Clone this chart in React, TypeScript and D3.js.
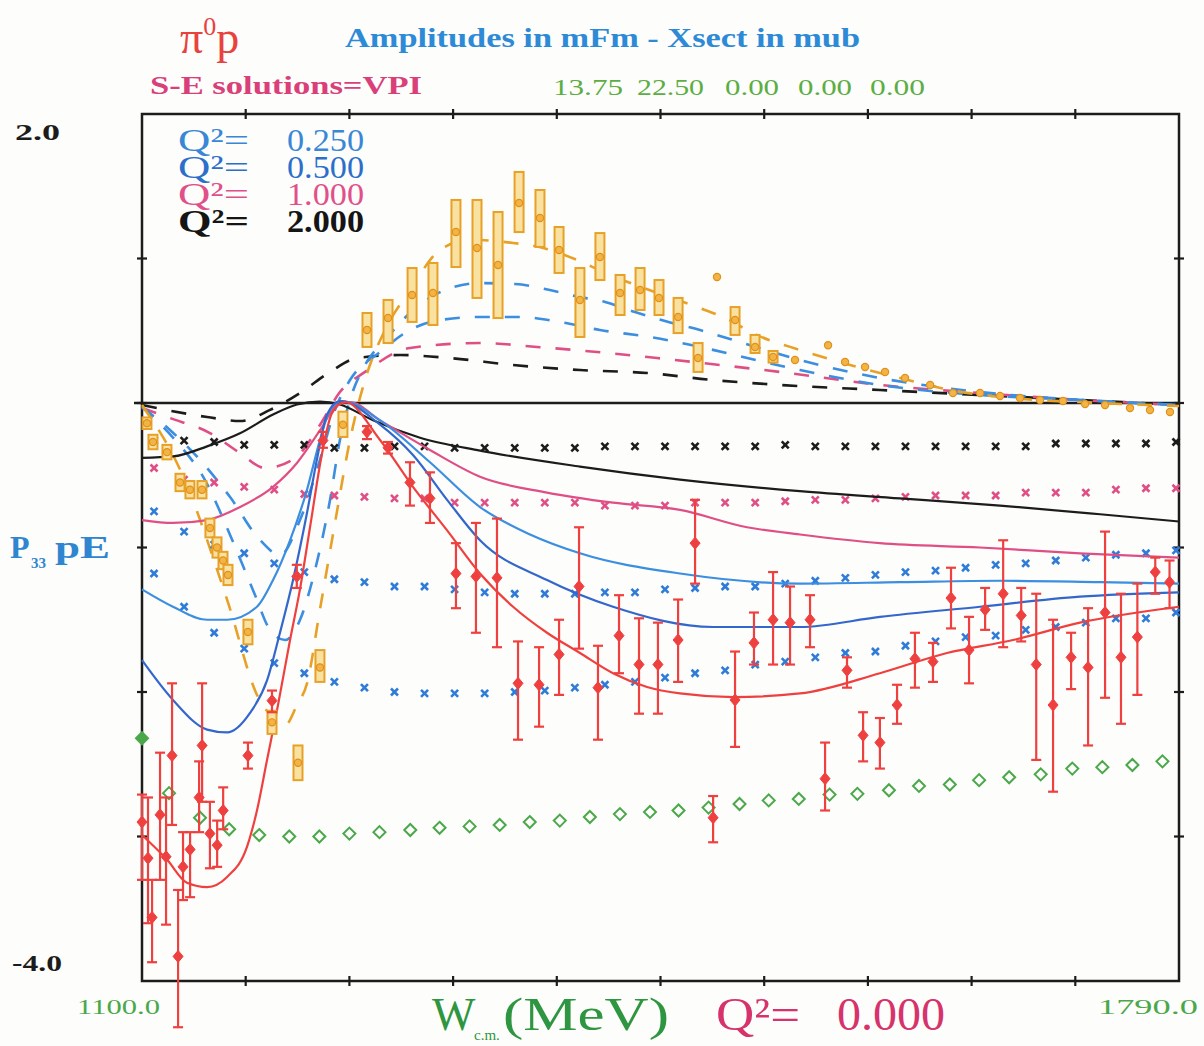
import * as d3 from "d3";

// ---- data (W in MeV, amplitude in mFm) ----
type Pt = [number, number];

// Q2 = 0 (red), real part fit
const redSolid: Pt[] = [[1100,-2.99],[1116.6,-3.16],[1129.9,-3.32],[1143.3,-3.35],[1156.6,-3.28],[1169.9,-3.07],[1176.5,-2.82],[1183.2,-2.47],[1190.5,-2.09],[1198.5,-1.64],[1205.1,-1.29],[1211.8,-0.86],[1219.8,-0.35],[1226.4,-0.07],[1235.1,0.007],[1258.4,-0.256],[1280.3,-0.58],[1302.9,-0.88],[1324.9,-1.18],[1346.9,-1.41],[1369.5,-1.59],[1391.4,-1.73],[1413.4,-1.87],[1436,-1.965],[1458,-2.01],[1493.3,-2.035],[1537.8,-2.01],[1591,-1.87],[1635.6,-1.73],[1679.6,-1.64],[1724.1,-1.52],[1790,-1.41]];
// Q2 = 0 imaginary part (orange dashed)
const orangeDashed: Pt[] = [[1100,-0.014],[1125.3,-0.46],[1157.2,-1.38],[1177.2,-2.035],[1186.5,-2.17],[1195.2,-2.23],[1203.1,-2.09],[1209.8,-1.94],[1218.4,-1.43],[1228.4,-0.83],[1238.4,-0.256],[1248.4,0.16],[1261.7,0.505],[1278.3,0.78],[1298.3,1.06],[1318.2,1.13],[1344.9,1.11],[1368.2,1.07],[1389.4,0.99],[1411.4,0.886],[1438,0.78],[1469.3,0.664],[1486.6,0.595],[1509.2,0.47],[1537.8,0.367],[1571.1,0.263],[1604.4,0.173],[1637.6,0.09],[1670.9,0.042],[1737.5,0],[1790,-0.021]];

// Q2 = 0.25
const blue25Solid: Pt[] = [[1100,-1.78],[1120.6,-2.055],[1143.3,-2.26],[1156.6,-2.28],[1171.9,-2.145],[1183.2,-1.92],[1191.8,-1.59],[1200.5,-1.225],[1209.8,-0.76],[1216.4,-0.39],[1223.1,-0.08],[1231.7,0.014],[1258.4,-0.15],[1280.3,-0.36],[1303,-0.67],[1324.9,-0.95],[1369.5,-1.225],[1413.4,-1.41],[1480,-1.55],[1537.8,-1.55],[1591,-1.48],[1657.6,-1.41],[1724.1,-1.34],[1790,-1.31]];
const blue25Dashed: Pt[] = [[1100,-0.028],[1122,-0.256],[1141.9,-0.533],[1158.6,-0.913],[1175.2,-1.329],[1185.2,-1.571],[1195.2,-1.64],[1205.1,-1.502],[1215.1,-1.156],[1225.1,-0.671],[1231.7,-0.256],[1238.4,0.021],[1248.4,0.263],[1261.7,0.436],[1278.3,0.623],[1301.6,0.782],[1324.9,0.83],[1348.2,0.824],[1368.2,0.789],[1388.1,0.74],[1408.1,0.699],[1428,0.63],[1448,0.567],[1471.3,0.505],[1499.9,0.415],[1537.8,0.298],[1591,0.173],[1657.6,0.076],[1724.1,0.021],[1790,-0.014]];

// Q2 = 0.5
const blue50Solid: Pt[] = [[1100,-1.29],[1120.6,-1.41],[1143.3,-1.5],[1156.6,-1.5],[1176.5,-1.41],[1187.2,-1.225],[1198.5,-0.95],[1209.8,-0.6],[1218.4,-0.256],[1225.1,-0.05],[1233.1,0.014],[1258.4,-0.12],[1291.6,-0.41],[1324.9,-0.72],[1358.2,-0.91],[1391.4,-1.04],[1458,-1.18],[1537.8,-1.25],[1604.4,-1.24],[1670.9,-1.23],[1737.5,-1.24],[1790,-1.25]];
const blue50Dashed: Pt[] = [[1100,-0.028],[1118.6,-0.187],[1138.6,-0.394],[1158.6,-0.651],[1178.5,-0.948],[1191.8,-1.052],[1205.1,-0.81],[1218.4,-0.394],[1228.4,-0.048],[1238.4,0.159],[1258.4,0.353],[1278.3,0.505],[1298.3,0.574],[1324.9,0.595],[1351.5,0.595],[1378.1,0.561],[1404.7,0.505],[1438,0.457],[1471.3,0.388],[1499.9,0.318],[1537.8,0.228],[1591,0.125],[1657.6,0.055],[1724.1,0.021],[1790,-0.014]];

// Q2 = 1.0
const pinkSolid: Pt[] = [[1100,-0.81],[1120.6,-0.83],[1143.3,-0.81],[1165.2,-0.72],[1187.2,-0.58],[1203.1,-0.415],[1218.4,-0.19],[1229.8,-0.014],[1238.4,0.007],[1258.4,-0.12],[1291.6,-0.325],[1324.9,-0.51],[1369.5,-0.62],[1413.4,-0.69],[1458,-0.74],[1502.6,-0.86],[1537.8,-0.91],[1591,-0.97],[1657.6,-1.0],[1724.1,-1.04],[1790,-1.07]];
const pinkDashed: Pt[] = [[1100,-0.035],[1118.6,-0.104],[1145.2,-0.208],[1165.2,-0.346],[1181.8,-0.45],[1201.8,-0.381],[1218.4,-0.152],[1231.7,0.076],[1248.4,0.215],[1278.3,0.381],[1324.9,0.415],[1362.8,0.388],[1402.8,0.353],[1442.7,0.311],[1484.6,0.263],[1524.5,0.215],[1591,0.125],[1657.6,0.069],[1724.1,0.021],[1790,-0.014]];

// Q2 = 2.0
const blackSolid: Pt[] = [[1100,-0.38],[1120.6,-0.37],[1143.3,-0.3],[1165.2,-0.21],[1187.2,-0.08],[1203.1,-0.01],[1218.4,0.01],[1231.7,-0.01],[1253.7,-0.12],[1285,-0.24],[1324.9,-0.33],[1391.4,-0.44],[1458,-0.53],[1537.8,-0.61],[1604.4,-0.66],[1670.9,-0.71],[1737.5,-0.77],[1790,-0.82]];
const blackDashed: Pt[] = [[1100,-0.014],[1143.3,-0.097],[1165.2,-0.125],[1185.2,-0.048],[1205.1,0.069],[1225.1,0.215],[1243.1,0.311],[1271.7,0.332],[1304.9,0.311],[1346.9,0.263],[1391.4,0.228],[1436,0.208],[1479.9,0.159],[1524.5,0.125],[1591,0.09],[1657.6,0.055],[1724.1,0.021],[1790,-0.014]];

// cross markers (same energy grid)
const crossW = [1108,1128,1148,1168,1188,1208,1228,1248,1268,1288,1308,1328,1348,1368,1388,1408,1428,1448,1468,1488,1508,1528,1548,1568,1588,1608,1628,1648,1668,1688,1708,1728,1748,1768,1788];
const crossBlack = [-0.26,-0.26,-0.27,-0.29,-0.29,-0.29,-0.31,-0.31,-0.3,-0.3,-0.31,-0.31,-0.31,-0.31,-0.31,-0.3,-0.3,-0.3,-0.3,-0.3,-0.3,-0.29,-0.3,-0.3,-0.3,-0.3,-0.3,-0.3,-0.3,-0.3,-0.28,-0.28,-0.28,-0.28,-0.27];
const crossPink = [-0.45,-0.53,-0.55,-0.58,-0.6,-0.63,-0.64,-0.65,-0.66,-0.66,-0.69,-0.69,-0.69,-0.69,-0.69,-0.71,-0.71,-0.71,-0.69,-0.69,-0.69,-0.68,-0.67,-0.67,-0.66,-0.65,-0.64,-0.64,-0.64,-0.62,-0.62,-0.62,-0.6,-0.59,-0.59];
const crossBlue50 = [-0.75,-0.89,-0.98,-1.04,-1.11,-1.17,-1.22,-1.24,-1.27,-1.27,-1.29,-1.31,-1.32,-1.32,-1.32,-1.31,-1.31,-1.29,-1.28,-1.27,-1.27,-1.25,-1.23,-1.21,-1.19,-1.17,-1.16,-1.14,-1.12,-1.11,-1.09,-1.07,-1.05,-1.04,-1.02];
const crossBlue25 = [-1.18,-1.41,-1.59,-1.7,-1.8,-1.87,-1.93,-1.97,-2.0,-2.01,-2.01,-2.01,-2.0,-1.99,-1.97,-1.95,-1.93,-1.9,-1.87,-1.85,-1.81,-1.79,-1.76,-1.73,-1.72,-1.68,-1.65,-1.62,-1.61,-1.57,-1.55,-1.52,-1.49,-1.49,-1.45];

// green diamonds
const diamondW = [1100,1118,1138.6,1158,1178,1198,1218,1238,1258,1278.5,1298,1318,1338,1358,1378,1398,1418,1438,1457,1477,1497.6,1517,1537,1557.5,1576,1597,1617,1637.5,1657,1677,1698,1719,1739,1759,1779];
const diamondV = [-2.32,-2.7,-2.87,-2.95,-2.99,-3.0,-3.0,-2.98,-2.97,-2.955,-2.94,-2.93,-2.92,-2.9,-2.89,-2.865,-2.845,-2.83,-2.82,-2.8,-2.775,-2.75,-2.74,-2.71,-2.705,-2.68,-2.65,-2.64,-2.61,-2.59,-2.57,-2.53,-2.52,-2.505,-2.48];

// red data: W, value, upper, lower
const redW = [1100,1104,1106.7,1112,1116,1120,1124,1127.3,1132,1138,1140,1145.2,1150,1154,1170.5,1186.5,1203,1220.4,1249.7,1263.7,1278.3,1291.6,1308.9,1322.2,1336.2,1350.2,1364.2,1377.5,1390.8,1403.4,1417.4,1430.7,1443.3,1456.7,1468,1480,1494.6,1507.2,1519.9,1531.2,1544.5,1554.5,1569.1,1579.8,1591,1602.4,1614.3,1626.3,1638.3,1650.3,1661,1673,1685,1695,1706.2,1718.2,1729.5,1740.8,1751.4,1762.3,1774.2,1783.7];
const redV = [-2.9,-3.15,-3.56,-2.85,-3.14,-2.44,-3.83,-3.21,-3.09,-2.73,-2.37,-2.98,-3.06,-2.82,-2.44,-2.06,-1.2,-0.26,-0.2,-0.31,-0.55,-0.66,-1.18,-1.2,-1.21,-1.94,-1.95,-1.74,-1.27,-1.97,-1.61,-1.81,-1.81,-1.64,-0.97,-2.87,-2.055,-1.66,-1.5,-1.52,-1.5,-2.6,-1.85,-2.3,-2.35,-2.09,-1.77,-1.79,-1.35,-1.71,-1.43,-1.32,-1.47,-1.81,-2.09,-1.76,-1.83,-1.45,-1.76,-1.62,-1.17,-1.24];
const redHi = [-2.71,-2.73,-3.3,-2.42,-2.73,-1.94,-3.37,-2.97,-2.97,-2.48,-1.94,-2.76,-2.89,-2.66,-2.35,-1.99,-1.12,-0.2,-0.16,-0.27,-0.41,-0.48,-0.97,-0.83,-0.8,-1.65,-1.69,-1.5,-0.86,-1.68,-1.33,-1.49,-1.52,-1.36,-0.67,-2.72,-1.72,-1.45,-1.17,-1.27,-1.33,-2.35,-1.76,-2.14,-2.18,-1.95,-1.59,-1.66,-1.14,-1.48,-1.28,-0.95,-1.28,-1.32,-1.5,-1.59,-1.42,-0.89,-1.32,-1.25,-1.07,-1.09];
const redLo = [-3.3,-3.6,-3.87,-3.3,-3.61,-2.92,-4.32,-3.44,-3.42,-2.97,-2.76,-3.22,-3.21,-2.95,-2.53,-2.14,-1.28,-0.31,-0.25,-0.35,-0.71,-0.83,-1.42,-1.59,-1.69,-2.33,-2.24,-2.02,-1.7,-2.33,-1.87,-2.15,-2.15,-1.93,-1.25,-3.04,-2.38,-1.81,-1.81,-1.81,-1.69,-2.82,-1.97,-2.48,-2.53,-2.22,-1.97,-1.93,-1.56,-1.94,-1.57,-1.69,-1.65,-2.47,-2.69,-1.98,-2.37,-2.04,-2.22,-2.02,-1.32,-1.42];

// orange data (imaginary part): W, value, upper, lower
const orangeW = [1103.3,1107.3,1116.6,1125.3,1131.9,1139.9,1145.2,1149.9,1153.9,1157.2,1170.5,1186.5,1203.8,1218.4,1233.7,1249.7,1263.7,1279.7,1293.6,1308.9,1322.9,1336.9,1350.9,1364.8,1377.5,1391.4,1404.7,1418.1,1431.4,1444,1456.7,1470,1482.6,1494.6,1507.9,1519.9,1534.5,1556.5,1567.8,1581.1,1594.4,1607.7,1624.4,1639.6,1657.6,1670.9,1684.2,1697.5,1712.8,1727.5,1740.8,1757.4,1770.7,1784];
const orangeV = [-0.14,-0.27,-0.34,-0.55,-0.6,-0.6,-0.865,-1.0,-1.09,-1.19,-1.585,-2.21,-2.49,-1.83,-0.15,0.505,0.588,0.747,0.761,1.183,1.073,0.955,1.384,1.28,1.059,0.713,1.01,0.761,0.782,0.727,0.595,0.311,0.872,0.574,0.388,0.318,0.298,0.4,0.284,0.249,0.215,0.173,0.125,0.069,0.069,0.048,0.035,0.021,0.014,-0.007,-0.014,-0.035,-0.048,-0.062];
const orangeHi = [-0.1,-0.22,-0.29,-0.49,-0.54,-0.54,-0.8,-0.93,-1.03,-1.12,-1.5,-2.13,-2.37,-1.71,-0.06,0.623,0.713,0.934,0.969,1.405,1.405,1.322,1.599,1.474,1.218,0.934,1.176,0.886,0.934,0.851,0.727,0.415,0.872,0.664,0.471,0.36,0.298,0.4,0.284,0.249,0.215,0.173,0.125,0.069,0.069,0.048,0.035,0.021,0.014,-0.007,-0.014,-0.035,-0.048,-0.062];
const orangeLo = [-0.18,-0.32,-0.39,-0.61,-0.66,-0.66,-0.93,-1.07,-1.15,-1.26,-1.67,-2.29,-2.61,-1.93,-0.235,0.388,0.415,0.561,0.54,0.941,0.727,0.588,1.183,1.08,0.9,0.457,0.851,0.609,0.644,0.609,0.484,0.215,0.872,0.471,0.346,0.28,0.298,0.4,0.284,0.249,0.215,0.173,0.125,0.069,0.069,0.048,0.035,0.021,0.014,-0.007,-0.014,-0.035,-0.048,-0.062];

// legend rows
const legendLabels = ["0.250", "0.500", "1.000", "2.000"];
const legendColors = ["#3a87d6", "#2c6fcb", "#e0508a", "#151515"];
// top-right parameter values
const paramLabels = ["13.75", "22.50", "0.00", "0.00", "0.00"];
const paramX = [553, 637, 725, 798, 870];
const paramLen = [70, 67, 54, 54, 55];

// ---- layout ----
const width = 1204;
const height = 1046;
const left = 142;
const right = 1179;
const top = 114;
const bottom = 981;

const RED = "#ef4040";
const PINK = "#df4f86";
const BLUE_L = "#3b8ee0";
const BLUE_D = "#3467cc";
const ORANGE = "#e7a126";
const GREEN = "#4aa84a";
const INK = "#1c1c1c";
const SERIF = "'Liberation Serif', 'DejaVu Serif', serif";

const x = d3.scaleLinear().domain([1100, 1790]).range([left, right]);
const y = d3.scaleLinear().domain([-4, 2]).range([bottom, top]);

const line = d3
  .line<Pt>()
  .x((d) => x(d[0]))
  .y((d) => y(d[1]))
  .curve(d3.curveMonotoneX);

const xTicks = d3.range(1, 10).map((i) => 1100 + i * 69);
const yTicks = [-3, -2, -1, 0, 1];

const Cross = ({ cx, cy, color }: { cx: number; cy: number; color: string }) => (
  <g stroke={color} strokeWidth={2.6}>
    <line x1={cx - 3.5} y1={cy - 3.5} x2={cx + 3.5} y2={cy + 3.5} />
    <line x1={cx - 3.5} y1={cy + 3.5} x2={cx + 3.5} y2={cy - 3.5} />
  </g>
);

const App = () => {
  const crossSets = [
    { v: crossBlack, c: INK },
    { v: crossPink, c: PINK },
    { v: crossBlue50, c: "#2f7cd8" },
    { v: crossBlue25, c: "#2f7cd8" },
  ];
  const dashed = [
    { d: blackDashed, c: INK },
    { d: pinkDashed, c: PINK },
    { d: blue50Dashed, c: BLUE_L },
    { d: blue25Dashed, c: BLUE_L },
    { d: orangeDashed, c: ORANGE },
  ];
  const solids = [
    { d: blackSolid, c: INK },
    { d: pinkSolid, c: PINK },
    { d: blue50Solid, c: BLUE_L },
    { d: blue25Solid, c: BLUE_D },
    { d: redSolid, c: RED },
  ];

  return (
    <svg
      width={width}
      height={height}
      viewBox={`0 0 ${width} ${height}`}
      style={{ position: "absolute", left: 0, top: 0, background: "#fdfdfb" }}
      fontFamily={SERIF}
    >
      {/* titles */}
      <text x={180} y={53} fill="#e8423e" fontSize={46}>
        π<tspan fontSize={26} dy={-18}>0</tspan>
        <tspan dy={18}>p</tspan>
      </text>
      <text x={345} y={47} fill="#2d8ad6" fontSize={27} fontWeight="bold" textLength={515} lengthAdjust="spacingAndGlyphs">
        Amplitudes in mFm - Xsect in mub
      </text>
      <text x={150} y={94} fill="#d9407a" fontSize={26} fontWeight="bold" textLength={272} lengthAdjust="spacingAndGlyphs">
        S-E solutions=VPI
      </text>
      {paramLabels.map((t, i) => (
        <text key={i} x={paramX[i]} y={95} fill="#5cae44" fontSize={24} textLength={paramLen[i]} lengthAdjust="spacingAndGlyphs">
          {t}
        </text>
      ))}

      {/* y labels */}
      <text x={15} y={140} fontSize={24} fontWeight="bold" fill={INK} textLength={45} lengthAdjust="spacingAndGlyphs">2.0</text>
      <text x={12} y={971} fontSize={24} fontWeight="bold" fill={INK} textLength={50} lengthAdjust="spacingAndGlyphs">-4.0</text>
      <g fill="#2f86d0" fontWeight="bold">
        <text x={10} y={558} fontSize={32}>P</text>
        <text x={31} y={568} fontSize={15}>33</text>
        <text x={55} y={558} fontSize={32} textLength={55} lengthAdjust="spacingAndGlyphs">pE</text>
      </g>

      {/* x labels */}
      <text x={77} y={1014} fill={GREEN} fontSize={22} textLength={83} lengthAdjust="spacingAndGlyphs">1100.0</text>
      <text x={1098} y={1014} fill={GREEN} fontSize={22} textLength={100} lengthAdjust="spacingAndGlyphs">1790.0</text>
      <g fill="#2e9640">
        <text x={432} y={1030} fontSize={46}>W</text>
        <text x={474} y={1040} fontSize={15}>c.m.</text>
        <text x={503} y={1030} fontSize={46} textLength={166} lengthAdjust="spacingAndGlyphs">(MeV)</text>
      </g>
      <g fill="#d6336c">
        <text x={716} y={1030} fontSize={46} textLength={84} lengthAdjust="spacingAndGlyphs">Q²=</text>
        <text x={837} y={1030} fontSize={46} textLength={108} lengthAdjust="spacingAndGlyphs">0.000</text>
      </g>

      {/* frame, ticks, zero line */}
      <rect x={left} y={top} width={right - left} height={bottom - top} fill="none" stroke={INK} strokeWidth={2.5} />
      <line x1={left - 8} x2={right} y1={y(0)} y2={y(0)} stroke={INK} strokeWidth={2.5} />
      <g stroke={INK} strokeWidth={2.2}>
        {xTicks.map((t) => (
          <g key={t}>
            <line x1={x(t)} x2={x(t)} y1={top - 5} y2={top + 5} />
            <line x1={x(t)} x2={x(t)} y1={bottom - 5} y2={bottom + 5} />
          </g>
        ))}
        {yTicks.map((t) => (
          <g key={t}>
            <line x1={left - 5} x2={left + 5} y1={y(t)} y2={y(t)} />
            <line x1={right - 5} x2={right + 5} y1={y(t)} y2={y(t)} />
          </g>
        ))}
      </g>

      {/* legend */}
      {legendLabels.map((t, i) => (
        <g key={t} fill={legendColors[i]} fontSize={32} fontWeight={i === 3 ? "bold" : "normal"}>
          <text x={178} y={151 + i * 27} textLength={71} lengthAdjust="spacingAndGlyphs">Q²=</text>
          <text x={287} y={151 + i * 27} textLength={77} lengthAdjust="spacingAndGlyphs">{t}</text>
        </g>
      ))}

      {/* dashed curves */}
      {dashed.map((s, i) => (
        <path key={i} d={line(s.d) ?? ""} fill="none" stroke={s.c} strokeWidth={2.6} strokeDasharray="15 15" />
      ))}

      {/* crosses */}
      {crossSets.map((s, j) =>
        s.v.map((v, i) => <Cross key={`${j}-${i}`} cx={x(crossW[i])} cy={y(v)} color={s.c} />)
      )}

      {/* solid curves */}
      {solids.map((s, i) => (
        <path key={i} d={line(s.d) ?? ""} fill="none" stroke={s.c} strokeWidth={2.2} />
      ))}

      {/* green diamonds */}
      {diamondW.map((w, i) => {
        const cx = x(w);
        const cy = y(diamondV[i]);
        return (
          <path
            key={i}
            d={`M${cx},${cy - 6}L${cx + 6},${cy}L${cx},${cy + 6}L${cx - 6},${cy}Z`}
            fill={i === 0 ? GREEN : "none"}
            stroke={GREEN}
            strokeWidth={2}
          />
        );
      })}

      {/* orange data */}
      {orangeW.map((w, i) => {
        const cx = x(w);
        const y1 = y(orangeHi[i]);
        const y2 = y(orangeLo[i]);
        const hasBox = y2 - y1 > 3;
        return (
          <g key={i}>
            {hasBox && (
              <rect x={cx - 4.5} y={y1} width={9} height={y2 - y1} fill="#f9e1a2" stroke={ORANGE} strokeWidth={2} />
            )}
            <circle cx={cx} cy={y(orangeV[i])} r={3.6} fill="#f2b445" stroke="#e0901c" strokeWidth={1.2} />
          </g>
        );
      })}

      {/* red data */}
      {redW.map((w, i) => {
        const cx = x(w);
        const cy = y(redV[i]);
        const y1 = y(redHi[i]);
        const y2 = y(redLo[i]);
        return (
          <g key={i} stroke={RED} strokeWidth={2.2}>
            <line x1={cx} x2={cx} y1={y1} y2={y2} />
            <line x1={cx - 5} x2={cx + 5} y1={y1} y2={y1} />
            <line x1={cx - 5} x2={cx + 5} y1={y2} y2={y2} />
            <path d={`M${cx},${cy - 6}L${cx + 5},${cy}L${cx},${cy + 6}L${cx - 5},${cy}Z`} fill={RED} strokeWidth={1} />
          </g>
        );
      })}
    </svg>
  );
};

export default App;
